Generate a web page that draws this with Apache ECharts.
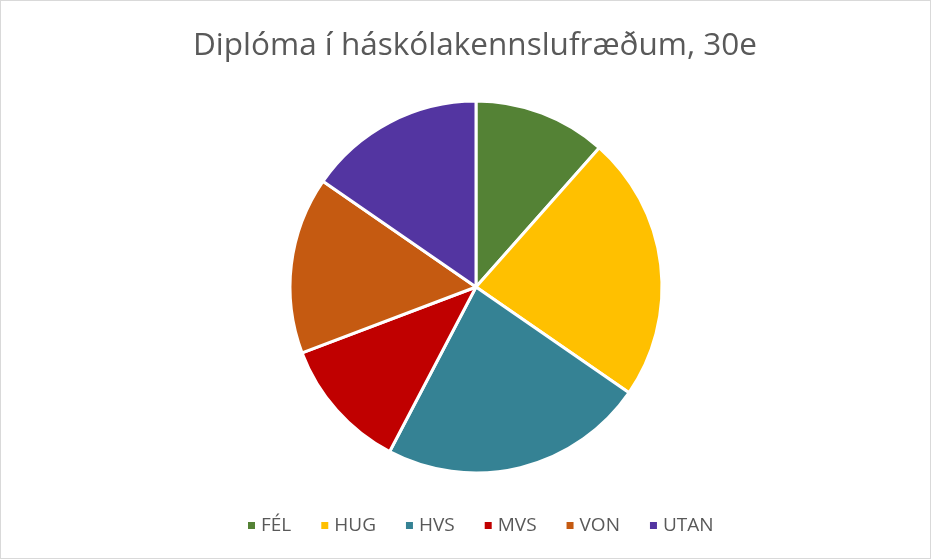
<!DOCTYPE html>
<html>
<head>
<meta charset="utf-8">
<script src="https://cdn.jsdelivr.net/npm/echarts@6/dist/echarts.min.js"></script>
<style>
  html, body { margin: 0; padding: 0; background: #fff; }
  #main { width: 929px; height: 557px; border: 1px solid #d9d9d9; }
</style>
</head>
<body>
<div id="main"></div>
<script>
// gögn
var categories = ['FÉL', 'HUG', 'HVS', 'MVS', 'VON', 'UTAN'];
var values = [3, 6, 6, 3, 4, 4];
var colors = ['#548235', '#FFC000', '#358294', '#C00000', '#C55A11', '#5335A1'];

window.onload = function () {
  var myChart = echarts.init(document.getElementById('main'));
  var data = [];
  for (var i = 0; i < categories.length; i++) {
    data.push({ name: categories[i], value: values[i], itemStyle: { color: colors[i] } });
  }
  var option = {
    animation: false,
    title: {
      text: 'Diplóma í háskólakennslufræðum, 30e',
      left: 187,
      top: 24,
      textStyle: { fontFamily: 'Open Sans', fontSize: 31.5, fontWeight: 'normal', color: '#595959' }
    },
    legend: {
      data: categories,
      bottom: 18,
      left: 240,
      icon: 'rect',
      itemWidth: 9,
      itemHeight: 9,
      itemGap: 28,
      textStyle: { fontFamily: 'Open Sans', fontSize: 19, color: '#595959' }
    },
    series: [{
      type: 'pie',
      center: [475, 286],
      radius: 186,
      startAngle: 90,
      clockwise: true,
      label: { show: false },
      labelLine: { show: false },
      itemStyle: { borderColor: '#fff', borderWidth: 3 },
      data: data
    }]
  };
  myChart.setOption(option);
};
</script>
</body>
</html>
